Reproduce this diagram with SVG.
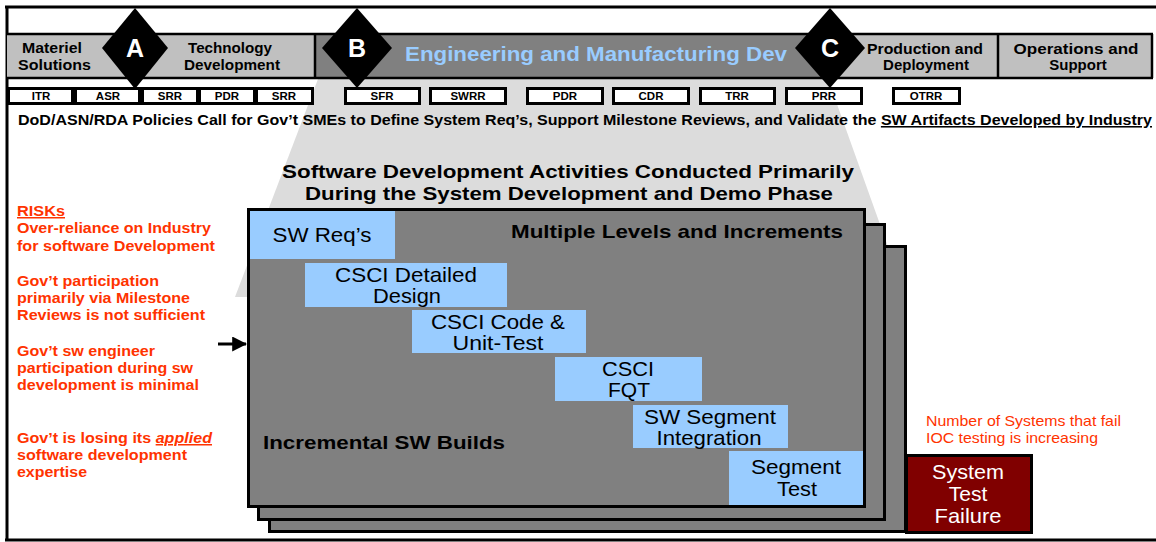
<svg xmlns="http://www.w3.org/2000/svg" width="1156" height="542" viewBox="0 0 1156 542">
<defs>
<style>
.b{font-family:"Liberation Sans",Arial,sans-serif;font-weight:bold}
.r{font-family:"Liberation Sans",Arial,sans-serif}
.ms{fill:#fff;stroke:#000;stroke-width:3}
.mt{font-family:"Liberation Sans",Arial,sans-serif;font-weight:bold;font-size:11.5px;text-anchor:middle;fill:#000}
.dia{fill:#000}
.dl{font-family:"Liberation Sans",Arial,sans-serif;font-weight:bold;font-size:25px;fill:#fff;text-anchor:middle}
.ph{font-family:"Liberation Sans",Arial,sans-serif;font-weight:bold;font-size:15px;fill:#000;text-anchor:middle}
.red{font-family:"Liberation Sans",Arial,sans-serif;font-weight:bold;font-size:15px;fill:#ff3300}
.stk{fill:#808080;stroke:#000;stroke-width:3}
.blue{fill:#99ccff}
.bt{font-family:"Liberation Sans",Arial,sans-serif;font-size:21px;fill:#000;text-anchor:middle}
</style>
<marker id="ah" markerWidth="5" markerHeight="5" refX="4.6" refY="2.5" orient="auto" markerUnits="strokeWidth">
<path d="M0,0 L5,2.5 L0,5 z" fill="#000"/>
</marker>
</defs>
<rect x="0" y="0" width="1156" height="542" fill="#fff"/>
<g id="frame" fill="none" stroke="#000" stroke-width="3">
<line x1="5" y1="7" x2="1156" y2="7"/>
<line x1="7" y1="6" x2="7" y2="541"/>
<line x1="5" y1="540" x2="1156" y2="540"/>
</g>
<polygon id="focus" points="318,79 828,79 906,297 235,297" fill="#dcdcdc"/>
<g id="phase-bar">
<rect x="7" y="34" width="308" height="44" fill="#c0c0c0"/>
<rect x="315" y="34" width="523" height="44" fill="#808080"/>
<rect x="838" y="34" width="314" height="44" fill="#c0c0c0"/>
<g stroke="#000" stroke-width="2.5" fill="none">
<line x1="7" y1="34" x2="1153" y2="34"/>
<line x1="7" y1="78" x2="1153" y2="78"/>
<line x1="315" y1="34" x2="315" y2="78"/>
<line x1="998" y1="34" x2="998" y2="78"/>
<line x1="1152" y1="34" x2="1152" y2="78"/>
</g>
<text class="b" x="22" y="53" font-size="15" textLength="60" lengthAdjust="spacingAndGlyphs">Materiel</text>
<text class="b" x="18" y="70" font-size="15" textLength="73" lengthAdjust="spacingAndGlyphs">Solutions</text>
<text class="ph" x="230" y="53" textLength="84" lengthAdjust="spacingAndGlyphs">Technology</text>
<text class="ph" x="232" y="70" textLength="96" lengthAdjust="spacingAndGlyphs">Development</text>
<text class="b" x="405" y="61" font-size="20" fill="#99ccff" textLength="382" lengthAdjust="spacingAndGlyphs">Engineering and Manufacturing Dev</text>
<text class="ph" x="925" y="54" textLength="116" lengthAdjust="spacingAndGlyphs">Production and</text>
<text class="ph" x="926" y="70">Deployment</text>
<text class="ph" x="1076" y="54" textLength="125" lengthAdjust="spacingAndGlyphs">Operations and</text>
<text class="ph" x="1078" y="70">Support</text>
</g>
<g id="milestone-A">
<polygon class="dia" points="135,8 168,48 135,89 102,48"/>
<text class="dl" x="135" y="57">A</text>
</g>
<g id="milestone-B">
<polygon class="dia" points="357,8 392,48 357,88 322,48"/>
<text class="dl" x="357" y="57">B</text>
</g>
<g id="milestone-C">
<polygon class="dia" points="830,8 865,48 830,88 795,48"/>
<text class="dl" x="830" y="57">C</text>
</g>
<g id="reviews">
<rect class="ms" x="8.5" y="88.5" width="64" height="15"/><text class="mt" x="41" y="100">ITR</text>
<rect class="ms" x="75.5" y="88.5" width="64" height="15"/><text class="mt" x="108" y="100">ASR</text>
<rect class="ms" x="142.5" y="88.5" width="55" height="15"/><text class="mt" x="170" y="100">SRR</text>
<rect class="ms" x="199.5" y="88.5" width="55" height="15"/><text class="mt" x="227" y="100">PDR</text>
<rect class="ms" x="256.5" y="88.5" width="56" height="15"/><text class="mt" x="284" y="100">SRR</text>
<rect class="ms" x="345.5" y="88.5" width="74" height="15"/><text class="mt" x="382" y="100">SFR</text>
<rect class="ms" x="430.5" y="88.5" width="75" height="15"/><text class="mt" x="468" y="100">SWRR</text>
<rect class="ms" x="527.5" y="88.5" width="75" height="15"/><text class="mt" x="565" y="100">PDR</text>
<rect class="ms" x="613.5" y="88.5" width="75" height="15"/><text class="mt" x="651" y="100">CDR</text>
<rect class="ms" x="700.5" y="88.5" width="74" height="15"/><text class="mt" x="737" y="100">TRR</text>
<rect class="ms" x="786.5" y="88.5" width="75" height="15"/><text class="mt" x="824" y="100">PRR</text>
<rect class="ms" x="893.5" y="88.5" width="66" height="15"/><text class="mt" x="926" y="100">OTRR</text>
</g>
<text id="policy" class="b" x="18" y="125" font-size="15.5" fill="#000" textLength="1134" lengthAdjust="spacingAndGlyphs">DoD/ASN/RDA Policies Call for Gov’t SMEs to Define System Req’s, Support Milestone Reviews, and Validate the <tspan text-decoration="underline">SW Artifacts Developed by Industry</tspan></text>
<g id="heading" class="b" font-size="19" fill="#000">
<text x="282" y="178" textLength="572" lengthAdjust="spacingAndGlyphs">Software Development Activities Conducted Primarily</text>
<text x="305" y="200" textLength="528" lengthAdjust="spacingAndGlyphs">During the System Development and Demo Phase</text>
</g>
<g id="risks">
<text class="red" x="17" y="216" text-decoration="underline" textLength="48" lengthAdjust="spacingAndGlyphs">RISKs</text>
<text class="red" x="17" y="233" textLength="194" lengthAdjust="spacingAndGlyphs">Over-reliance on Industry</text>
<text class="red" x="17" y="251" textLength="198" lengthAdjust="spacingAndGlyphs">for software Development</text>
<text class="red" x="17" y="286" textLength="142" lengthAdjust="spacingAndGlyphs">Gov’t participation</text>
<text class="red" x="17" y="303" textLength="173" lengthAdjust="spacingAndGlyphs">primarily via Milestone</text>
<text class="red" x="17" y="320" textLength="188" lengthAdjust="spacingAndGlyphs">Reviews is not sufficient</text>
<text class="red" x="17" y="356" textLength="138" lengthAdjust="spacingAndGlyphs">Gov’t sw engineer</text>
<text class="red" x="17" y="373" textLength="176" lengthAdjust="spacingAndGlyphs">participation during sw</text>
<text class="red" x="17" y="390" textLength="182" lengthAdjust="spacingAndGlyphs">development is minimal</text>
<text class="red" x="17" y="443" textLength="195" lengthAdjust="spacingAndGlyphs">Gov’t is losing its <tspan font-style="italic" text-decoration="underline">applied</tspan></text>
<text class="red" x="17" y="460" textLength="170" lengthAdjust="spacingAndGlyphs">software development</text>
<text class="red" x="17" y="477" textLength="70" lengthAdjust="spacingAndGlyphs">expertise</text>
</g>
<g id="connectors">
<line x1="218" y1="344" x2="246" y2="344" stroke="#000" stroke-width="3" marker-end="url(#ah)"/>
</g>
<g id="increments">
<rect class="stk" x="269.5" y="246.5" width="636" height="285"/>
<rect class="stk" x="258.5" y="224.5" width="626" height="295"/>
<rect class="stk" x="248.5" y="209.5" width="616" height="297"/>
<text class="b" x="511" y="238" font-size="19" fill="#000" textLength="332" lengthAdjust="spacingAndGlyphs">Multiple Levels and Increments</text>
<text class="b" x="263" y="449" font-size="19" fill="#000" textLength="242" lengthAdjust="spacingAndGlyphs">Incremental SW Builds</text>
</g>
<g id="sw-reqs">
<rect class="blue" x="250" y="211" width="145" height="48"/>
<text class="bt" x="322" y="242" textLength="99" lengthAdjust="spacingAndGlyphs">SW Req’s</text>
</g>
<g id="csci-detailed-design">
<rect class="blue" x="305" y="263" width="202" height="44"/>
<text class="bt" x="406" y="282" textLength="142" lengthAdjust="spacingAndGlyphs">CSCI Detailed</text>
<text class="bt" x="407" y="303" textLength="68" lengthAdjust="spacingAndGlyphs">Design</text>
</g>
<g id="csci-code">
<rect class="blue" x="412" y="310" width="174" height="43"/>
<text class="bt" x="498" y="329" textLength="134" lengthAdjust="spacingAndGlyphs">CSCI Code &amp;</text>
<text class="bt" x="498" y="350" textLength="91" lengthAdjust="spacingAndGlyphs">Unit-Test</text>
</g>
<g id="csci-fqt">
<rect class="blue" x="555" y="357" width="147" height="44"/>
<text class="bt" x="628" y="376" textLength="52" lengthAdjust="spacingAndGlyphs">CSCI</text>
<text class="bt" x="629" y="397" textLength="42" lengthAdjust="spacingAndGlyphs">FQT</text>
</g>
<g id="sw-segment-integration">
<rect class="blue" x="633" y="405" width="155" height="43"/>
<text class="bt" x="710" y="424" textLength="132" lengthAdjust="spacingAndGlyphs">SW Segment</text>
<text class="bt" x="709" y="445" textLength="105" lengthAdjust="spacingAndGlyphs">Integration</text>
</g>
<g id="segment-test">
<rect class="blue" x="729" y="451" width="134" height="54"/>
<text class="bt" x="796" y="474" textLength="90" lengthAdjust="spacingAndGlyphs">Segment</text>
<text class="bt" x="797" y="496" textLength="40" lengthAdjust="spacingAndGlyphs">Test</text>
</g>
<g id="ioc-note">
<text class="r" x="926" y="426" font-size="15" fill="#ff3300" textLength="195" lengthAdjust="spacingAndGlyphs">Number of Systems that fail</text>
<text class="r" x="926" y="443" font-size="15" fill="#ff3300" textLength="172" lengthAdjust="spacingAndGlyphs">IOC testing is increasing</text>
</g>
<g id="system-test-failure">
<rect x="906.5" y="455.5" width="125" height="77" fill="#800000" stroke="#000" stroke-width="3"/>
<g class="bt" style="fill:#fff">
<text x="968" y="479" textLength="72" lengthAdjust="spacingAndGlyphs">System</text>
<text x="968" y="501">Test</text>
<text x="968" y="523" textLength="67" lengthAdjust="spacingAndGlyphs">Failure</text>
</g>
</g>
</svg>
